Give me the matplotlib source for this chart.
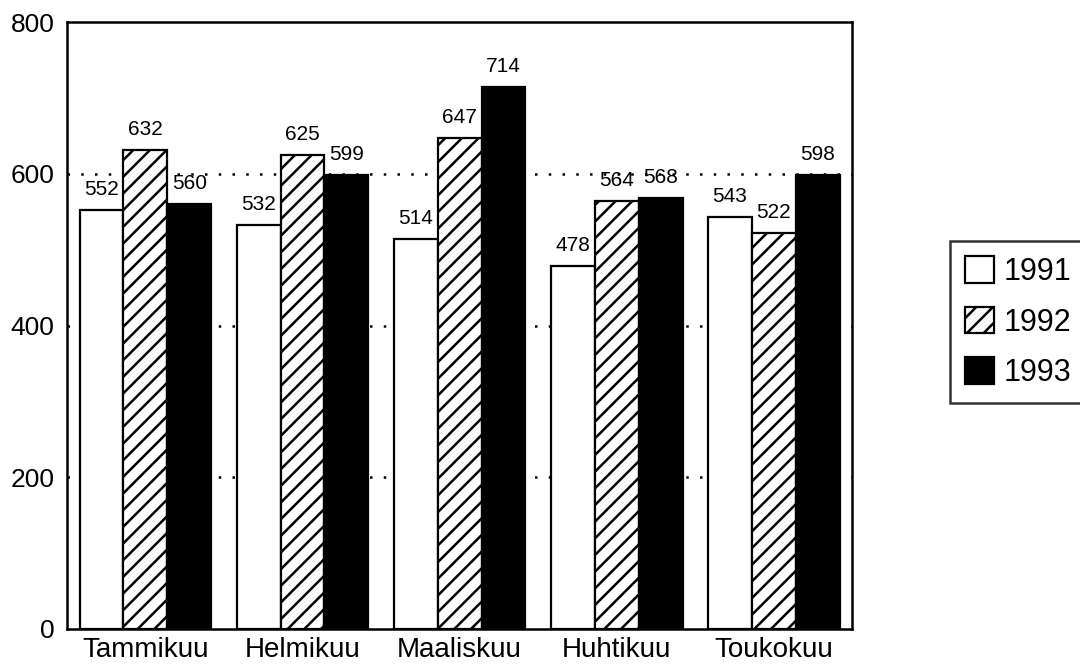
import numpy as np
import matplotlib.pyplot as plt

plt.rcParams['font.family'] = ['Liberation Sans', 'DejaVu Sans']
plt.rcParams['hatch.linewidth'] = 1.8

# data
months = ['Tammikuu', 'Helmikuu', 'Maaliskuu', 'Huhtikuu', 'Toukokuu']
years = ['1991', '1992', '1993']
v1991 = [552, 532, 514, 478, 543]
v1992 = [632, 625, 647, 564, 522]
v1993 = [560, 599, 714, 568, 598]

fig = plt.figure(figsize=(10.8, 6.66), dpi=100)
ax = fig.add_axes([0.062, 0.0556, 0.727, 0.911])

x = np.arange(len(months))
w = 0.28
styles = [dict(color='white', hatch=None),
          dict(color='white', hatch='//'),
          dict(color='black', hatch=None)]

bars = []
for i, (vals, st) in enumerate(zip([v1991, v1992, v1993], styles)):
    b = ax.bar(x + (i - 1) * w, vals, w, facecolor=st['color'], edgecolor='black',
               linewidth=1.6, hatch=st['hatch'], label=years[i], zorder=3)
    bars.append(b)
    for xi, v in zip(x + (i - 1) * w, vals):
        ax.annotate(str(v), (xi, v), xytext=(0, 8), textcoords='offset points',
                    ha='center', va='bottom', fontsize=15)

# dotted reference lines
for y in [200, 400, 600]:
    ax.axhline(y, color='black', linestyle=(0, (1, 4.5)), linewidth=1.8, zorder=1)

ax.set_xlim(-0.5, 4.5)
ax.set_ylim(0, 800)
ax.set_yticks([0, 200, 400, 600, 800])
ax.set_xticks(x)
ax.set_xticklabels(months, fontsize=20)
ax.tick_params(axis='y', length=0, pad=9, labelsize=19)
ax.tick_params(axis='x', length=0, pad=6)
for s in ax.spines.values():
    s.set_linewidth(1.8)

leg = fig.legend(handles=bars, labels=years, loc='upper left',
                 bbox_to_anchor=(0.8796, 0.638), bbox_transform=fig.transFigure,
                 borderaxespad=0, fancybox=False, frameon=True, fontsize=22,
                 handlelength=0.95, handleheight=0.95, handletextpad=0.3,
                 labelspacing=0.65, borderpad=0.5)
leg.get_frame().set_edgecolor('black')
leg.get_frame().set_linewidth(1.8)

fig.savefig('out.png', dpi=100)
